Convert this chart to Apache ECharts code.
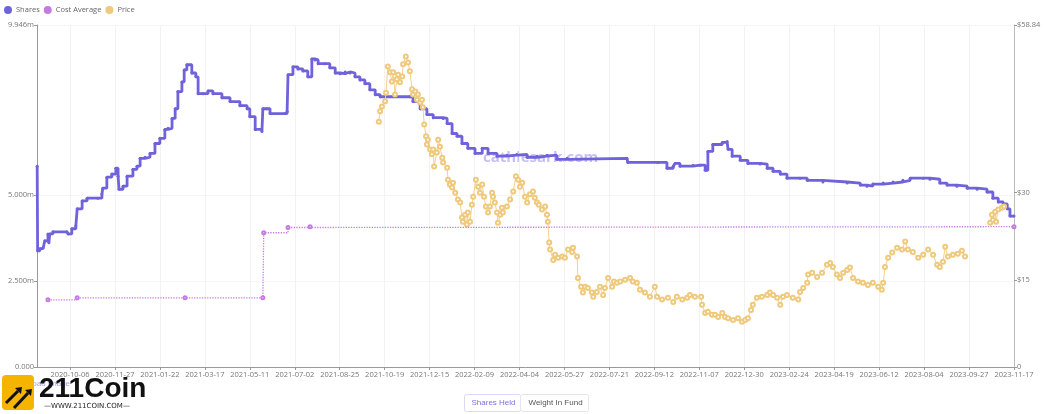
<!DOCTYPE html>
<html>
<head>
<meta charset="utf-8">
<script src="https://cdn.jsdelivr.net/npm/echarts@6/dist/echarts.min.js"></script>
<style>
  html, body { margin: 0; padding: 0; background: #fff; }
  #chart { width: 1048px; height: 414px; }
</style>
</head>
<body>
<div id="chart"></div>
<script>
// x position is measured in "tick steps": 0 = 2020-10-06, 21 = 2023-11-17
const xTickLabels = [
  '2020-10-06', '2020-11-27', '2021-01-22', '2021-03-17', '2021-05-11', '2021-07-02',
  '2021-08-25', '2021-10-19', '2021-12-15', '2022-02-09', '2022-04-04', '2022-05-27',
  '2022-07-21', '2022-09-12', '2022-11-07', '2022-12-30', '2023-02-24', '2023-04-19',
  '2023-06-12', '2023-08-04', '2023-09-27', '2023-11-17',
];
const xTickValues = xTickLabels.map((d, i) => i);

const sharesTicks = [0, 2.5, 5, 9.946];
const priceTicks = [0, 15, 30, 58.84];

// shares held (millions)
const sharesData = [
  [-0.73, 5.84], [-0.72, 3.38], [-0.67, 3.44], [-0.6, 3.47], [-0.56, 3.67], [-0.49, 3.87],
  [-0.47, 3.61], [-0.45, 3.87], [-0.38, 3.93], [-0.07, 3.93], [-0.04, 3.87], [0.04, 4.02],
  [0.13, 4.1], [0.16, 4.6], [0.27, 4.83], [0.38, 4.91], [0.62, 4.91], [0.71, 5.03],
  [0.73, 5.2], [0.82, 5.52], [0.93, 5.61], [1.02, 5.78], [1.07, 5.55], [1.09, 5.17],
  [1.18, 5.26], [1.27, 5.55], [1.4, 5.75], [1.49, 5.84], [1.56, 6.07], [1.67, 6.1],
  [1.78, 6.21], [1.89, 6.5], [2.0, 6.65], [2.11, 6.91], [2.18, 6.94], [2.27, 7.23],
  [2.34, 7.51], [2.4, 8.01], [2.49, 8.29], [2.54, 8.64], [2.6, 8.79], [2.71, 8.55],
  [2.8, 8.44], [2.85, 7.95], [2.96, 7.95], [3.07, 8.03], [3.18, 7.95], [3.38, 7.83],
  [3.56, 7.72], [3.78, 7.6], [3.94, 7.51], [4.0, 7.28], [4.12, 6.91], [4.27, 6.85],
  [4.29, 7.51], [4.38, 7.51], [4.45, 7.37], [4.78, 7.37], [4.83, 7.43], [4.85, 8.5],
  [4.96, 8.73], [5.07, 8.67], [5.18, 8.61], [5.29, 8.44], [5.38, 8.96], [5.45, 8.93],
  [5.52, 8.82], [5.67, 8.82], [5.78, 8.7], [5.9, 8.55], [6.01, 8.53], [6.12, 8.58],
  [6.23, 8.55], [6.34, 8.44], [6.45, 8.35], [6.56, 8.24], [6.67, 8.06], [6.79, 7.92],
  [6.9, 7.86], [7.56, 7.86], [7.63, 7.72], [7.79, 7.51], [7.94, 7.34], [8.08, 7.25],
  [8.3, 7.23], [8.39, 7.08], [8.5, 6.79], [8.61, 6.71], [8.72, 6.5], [8.85, 6.36],
  [9.01, 6.21], [9.17, 6.36], [9.3, 6.21], [9.5, 6.13], [9.72, 6.16], [9.94, 6.18],
  [10.17, 6.1], [10.39, 6.13], [10.61, 6.16], [10.83, 6.04], [11.06, 6.07], [12.39, 6.07],
  [12.41, 5.95], [13.08, 5.95], [13.28, 5.78], [13.42, 5.84], [13.46, 5.92], [13.57, 5.84],
  [13.86, 5.87], [14.02, 5.87], [14.13, 5.72], [14.19, 6.27], [14.3, 6.47], [14.51, 6.53],
  [14.62, 6.56], [14.64, 6.33], [14.73, 6.13], [14.91, 6.01], [15.08, 5.92], [15.35, 5.9],
  [15.51, 5.78], [15.64, 5.69], [15.8, 5.61], [15.95, 5.49], [16.24, 5.49], [16.4, 5.43],
  [16.75, 5.38], [17.29, 5.35], [17.58, 5.29], [17.73, 5.26], [17.86, 5.32], [18.09, 5.35],
  [18.31, 5.38], [18.53, 5.43], [18.69, 5.49], [18.98, 5.49], [19.13, 5.46], [19.35, 5.35],
  [19.51, 5.29], [19.73, 5.26], [19.96, 5.2], [20.18, 5.17], [20.4, 5.09], [20.53, 4.91],
  [20.65, 4.8], [20.76, 4.74], [20.85, 4.6], [20.91, 4.39], [21.0, 4.39],
];

// cost average ($)
const costData = [
  [-0.49, 11.55], [0.16, 11.9], [2.56, 11.9], [4.29, 11.9], [4.31, 23.1], [4.85, 24.0],
  [5.34, 24.14], [21.0, 24.14],
];

// price ($)
const priceData = [
  [6.87, 42.2], [6.9, 44.0], [6.94, 44.8], [7.01, 45.7], [7.03, 47.2], [7.07, 51.7],
  [7.12, 50.7], [7.16, 49.1], [7.19, 50.7], [7.23, 46.9], [7.27, 49.5], [7.3, 50.3],
  [7.34, 49.0], [7.39, 50.0], [7.41, 52.1], [7.47, 53.4], [7.52, 52.4], [7.56, 50.9],
  [7.61, 47.8], [7.63, 46.9], [7.68, 47.4], [7.72, 46.0], [7.74, 46.9], [7.79, 45.5],
  [7.83, 46.0], [7.85, 44.7], [7.88, 41.7], [7.92, 39.7], [7.94, 38.3], [7.96, 39.1],
  [8.01, 37.4], [8.05, 36.6], [8.08, 37.4], [8.1, 34.5], [8.16, 36.9], [8.19, 39.1],
  [8.23, 37.9], [8.28, 36.0], [8.3, 35.2], [8.39, 34.3], [8.41, 32.2], [8.45, 31.4],
  [8.5, 30.9], [8.52, 31.7], [8.57, 30.0], [8.63, 28.8], [8.68, 28.3], [8.72, 25.7],
  [8.74, 25.0], [8.79, 26.2], [8.83, 24.5], [8.85, 26.6], [8.9, 25.0], [8.94, 27.9],
  [8.97, 29.3], [9.03, 32.2], [9.08, 31.0], [9.12, 30.0], [9.17, 31.4], [9.21, 29.3],
  [9.25, 27.6], [9.3, 26.6], [9.34, 27.6], [9.39, 30.0], [9.41, 29.3], [9.45, 28.3],
  [9.5, 26.6], [9.52, 24.8], [9.57, 26.2], [9.61, 27.4], [9.63, 26.6], [9.72, 27.6],
  [9.79, 28.8], [9.86, 30.2], [9.92, 32.8], [9.97, 32.2], [10.01, 31.0], [10.06, 31.7],
  [10.12, 29.3], [10.17, 28.3], [10.23, 29.7], [10.3, 30.2], [10.34, 29.1], [10.39, 28.3],
  [10.43, 27.9], [10.5, 27.1], [10.57, 27.6], [10.61, 26.2], [10.63, 25.0], [10.66, 21.4],
  [10.68, 20.2], [10.75, 18.4], [10.79, 19.3], [10.86, 18.8], [10.95, 19.0], [11.01, 18.8],
  [11.08, 20.2], [11.17, 19.8], [11.19, 20.5], [11.28, 19.0], [11.3, 15.3], [11.37, 13.8],
  [11.41, 12.8], [11.46, 13.8], [11.52, 13.6], [11.61, 12.8], [11.64, 12.1], [11.72, 12.9],
  [11.79, 13.8], [11.86, 12.4], [11.9, 13.6], [11.97, 15.3], [12.06, 13.8], [12.1, 14.7],
  [12.17, 14.5], [12.24, 14.7], [12.35, 15.0], [12.46, 15.3], [12.52, 14.7], [12.61, 14.5],
  [12.68, 13.3], [12.79, 12.8], [12.9, 12.1], [13.01, 13.8], [13.06, 12.1], [13.17, 11.6],
  [13.3, 11.9], [13.42, 11.2], [13.5, 12.1], [13.62, 11.6], [13.73, 11.9], [13.79, 12.4],
  [13.9, 12.1], [14.04, 12.1], [14.06, 10.7], [14.13, 9.3], [14.19, 9.5], [14.28, 9.0],
  [14.35, 9.0], [14.42, 8.6], [14.51, 9.3], [14.57, 8.6], [14.64, 8.4], [14.75, 8.1],
  [14.86, 8.4], [14.95, 7.8], [15.02, 8.1], [15.08, 8.4], [15.15, 9.8], [15.19, 10.7],
  [15.28, 11.9], [15.39, 12.1], [15.51, 12.4], [15.57, 12.8], [15.64, 12.4], [15.73, 11.9],
  [15.8, 10.7], [15.86, 12.1], [15.95, 12.4], [16.08, 11.9], [16.2, 11.6], [16.24, 12.9],
  [16.31, 13.6], [16.4, 14.5], [16.42, 15.9], [16.51, 16.2], [16.62, 15.5], [16.73, 16.2],
  [16.84, 17.6], [16.91, 17.9], [16.97, 17.2], [17.06, 15.9], [17.13, 15.3], [17.2, 16.2],
  [17.29, 16.7], [17.35, 17.1], [17.42, 15.3], [17.53, 14.7], [17.64, 14.5], [17.75, 14.1],
  [17.86, 14.5], [17.98, 13.8], [18.06, 13.3], [18.09, 14.5], [18.13, 17.2], [18.2, 18.8],
  [18.29, 19.7], [18.4, 20.5], [18.51, 20.2], [18.58, 21.6], [18.64, 20.2], [18.75, 19.8],
  [18.87, 18.8], [18.98, 19.3], [19.09, 20.2], [19.2, 19.3], [19.29, 17.6], [19.35, 17.2],
  [19.42, 18.1], [19.47, 20.7], [19.53, 19.0], [19.64, 19.3], [19.75, 19.5], [19.84, 20.0],
  [19.91, 19.0], [20.2, '-'],
  [20.47, 24.8], [20.51, 26.2], [20.53, 25.3], [20.58, 26.7], [20.6, 25.0], [20.65, 27.1],
  [20.73, 27.4], [20.78, 27.6],
];

const chart = echarts.init(document.getElementById('chart'), null, { renderer: 'canvas' });

const option = {
  animation: false,
  textStyle: { fontFamily: 'Open Sans, Noto Sans, sans-serif' },
  legend: {
    left: 4,
    top: 6,
    padding: 0,
    icon: 'circle',
    itemWidth: 8,
    itemHeight: 8,
    itemGap: 4,
    textStyle: { fontSize: 7.5, color: '#666', padding: [0, 0, 0, -1] },
    data: ['Shares', 'Cost Average', 'Price'],
  },
  grid: { left: 37, right: 34, top: 25, bottom: 47 },
  xAxis: {
    type: 'value',
    min: -0.734,
    max: 21,
    axisLine: { onZero: false, lineStyle: { color: '#999' } },
    axisTick: { show: true, customValues: xTickValues, length: 3, lineStyle: { color: '#999' } },
    axisLabel: {
      customValues: xTickValues,
      fontSize: 7.5,
      color: '#777',
      margin: 4,
      formatter: v => xTickLabels[Math.round(v)],
    },
    splitLine: { show: true, lineStyle: { color: '#f2f2f2' } },
  },
  yAxis: [
    {
      // 左轴 shares
      type: 'value',
      min: 0,
      max: 9.946,
      position: 'left',
      axisLine: { show: true, onZero: false, lineStyle: { color: '#999' } },
      axisTick: { show: true, customValues: sharesTicks, length: 3, lineStyle: { color: '#999' } },
      axisLabel: {
        customValues: sharesTicks,
        fontSize: 7.5,
        color: '#777',
        margin: 3,
        formatter: v => (v === 0 ? '0.000' : v.toFixed(3) + 'm'),
      },
      splitLine: { show: true, lineStyle: { color: '#f6f6f6' } },
    },
    {
      // 右轴 price
      type: 'value',
      min: 0,
      max: 58.84,
      position: 'right',
      axisLine: { show: true, onZero: false, lineStyle: { color: '#bbb' } },
      axisTick: { show: true, customValues: priceTicks, length: 3, lineStyle: { color: '#999' } },
      axisLabel: {
        customValues: priceTicks,
        fontSize: 7.5,
        color: '#777',
        margin: 3,
        formatter: v => (v === 0 ? '0' : '$' + v),
      },
      splitLine: { show: false },
    },
  ],
  graphic: [
    {
      type: 'text',
      left: 483,
      top: 150,
      z: 0,
      style: { text: 'cathiesark.com', fill: 'rgba(150,140,230,0.55)', fontSize: 15, fontWeight: 'bold', fontFamily: 'Open Sans, sans-serif' },
    },
    {
      type: 'text',
      left: 10,
      top: 380,
      style: { text: 'Download Image', fill: '#a9a3e6', fontSize: 8 },
    },
    // 211Coin 水印
    {
      type: 'group',
      left: 2,
      top: 375,
      children: [
        { type: 'rect', shape: { x: 0, y: 0, width: 32, height: 35, r: 4 }, style: { fill: '#f5b400' } },
        { type: 'polyline', shape: { points: [[4, 28], [16, 16]] }, style: { stroke: '#111', lineWidth: 3 } },
        { type: 'polygon', shape: { points: [[13, 13], [20, 12], [19, 19]] }, style: { fill: '#111' } },
        { type: 'polyline', shape: { points: [[12, 33], [26, 18]] }, style: { stroke: '#111', lineWidth: 3 } },
        { type: 'polygon', shape: { points: [[23, 15], [30, 14], [29, 21]] }, style: { fill: '#111' } },
        { type: 'text', left: 37, top: 0, style: { text: '211Coin', fill: '#111', fontSize: 28, fontWeight: 'bold', fontFamily: 'Liberation Sans, Arial, sans-serif' } },
        { type: 'text', left: 42, top: 28, style: { text: '—WWW.211COIN.COM—', fill: '#222', fontSize: 7, fontFamily: 'DejaVu Sans, sans-serif' } },
      ],
    },
    // 底部按钮
    {
      type: 'group',
      left: 464,
      top: 394,
      children: [
        { type: 'rect', shape: { x: 0, y: 0, width: 56, height: 17, r: 2 }, style: { fill: '#fff', stroke: '#dcd8f6' } },
        { type: 'text', left: 7, top: 4, style: { text: 'Shares Held', fill: '#7d72de', fontSize: 8 } },
        { type: 'rect', shape: { x: 56, y: 0, width: 68, height: 17, r: 2 }, style: { fill: '#fff', stroke: '#e6e6e6' } },
        { type: 'text', left: 64, top: 4, style: { text: 'Weight In Fund', fill: '#555', fontSize: 8 } },
      ],
    },
  ],
  series: [
    {
      name: 'Shares',
      type: 'line',
      yAxisIndex: 0,
      step: 'end',
      data: sharesData,
      symbol: 'circle',
      symbolSize: 3,
      showSymbol: true,
      lineStyle: { width: 2.8, color: '#6f62da' },
      itemStyle: { color: '#6f62da' },
      z: 3,
    },
    {
      name: 'Price',
      type: 'line',
      yAxisIndex: 1,
      data: priceData,
      connectNulls: false,
      symbol: 'emptyCircle',
      symbolSize: 4,
      showSymbol: true,
      showAllSymbol: true,
      lineStyle: { width: 1, color: '#f2d08e' },
      itemStyle: { color: '#efc97c', borderWidth: 0.8 },
      z: 4,
    },
    {
      name: 'Cost Average',
      type: 'line',
      yAxisIndex: 1,
      step: 'end',
      data: costData,
      symbol: 'emptyCircle',
      symbolSize: 3,
      lineStyle: { width: 1.3, type: 'dotted', color: '#c77ce4' },
      itemStyle: { color: '#c47ae2', borderWidth: 0.8 },
      z: 5,
    },
  ],
};

option && chart.setOption(option);
</script>
</body>
</html>
